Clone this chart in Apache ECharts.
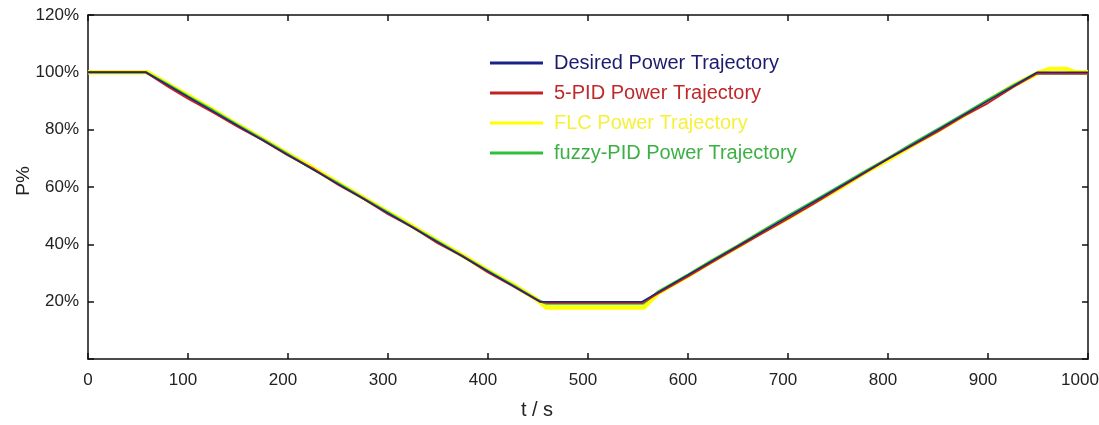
<!DOCTYPE html>
<html>
<head>
<meta charset="utf-8">
<script src="https://cdn.jsdelivr.net/npm/echarts@6/dist/echarts.min.js"></script>
<style>
  html, body { margin: 0; padding: 0; background: #fff; }
  #chart { width: 1099px; height: 425px; }
</style>
</head>
<body>
<div id="chart"></div>
<script>
// t / s and P%
const desired = [[0, 100], [58, 100], [452, 20], [554, 20], [949, 100], [1000, 100]];
const pid5 = [[0, 100], [58, 100], [80, 95], [100, 90.8], [125, 86], [150, 81], [175, 76.3],
  [200, 71], [225, 66.4], [250, 60.8], [275, 56], [300, 50.5], [325, 45.9], [350, 40.3], [375, 35.8],
  [400, 30.2], [425, 25.4], [452, 20], [460, 19.6], [554, 19.6], [570, 22.9], [600, 28.8], [625, 34],
  [650, 39], [675, 44], [700, 49], [725, 54], [750, 59.3], [775, 64.6], [800, 69.8], [825, 74.6],
  [850, 79.4], [875, 84.6], [900, 89.3], [925, 94.8], [949, 99.6], [1000, 99.6]];
const flc = [[0, 100], [60, 100], [80, 95.9], [100, 91.9], [125, 86.9], [150, 81.6], [175, 76.7],
  [200, 71.5], [225, 66.6], [250, 61.4], [275, 56.3], [300, 51.2], [325, 46.2], [350, 41], [375, 36],
  [400, 30.8], [425, 25.9], [448, 21], [458, 18], [556, 18], [570, 23], [600, 29], [625, 34.3],
  [650, 39.2], [675, 44.5], [700, 49.2], [725, 54.4], [750, 59.3], [775, 64.7], [800, 69.5], [825, 74.7],
  [850, 79.7], [875, 84.8], [900, 90], [925, 95.3], [950, 99.8], [962, 101.2], [978, 101.2], [988, 100], [1000, 100]];
const fuzzyPid = [[0, 100], [58, 100], [80, 95.7], [100, 91.6], [125, 86.7], [150, 81.5], [175, 76.5],
  [200, 71.4], [225, 66.2], [250, 61.3], [275, 56.1], [300, 51.1], [325, 45.9], [350, 40.9], [375, 35.8],
  [400, 30.7], [425, 25.7], [450, 20.5], [458, 19.4], [555, 19.4], [570, 23.4], [600, 29.4], [625, 34.6],
  [650, 39.6], [675, 44.8], [700, 49.9], [725, 54.9], [750, 60], [775, 65], [800, 70], [825, 75.2],
  [850, 80.2], [875, 85.3], [900, 90.4], [925, 95.4], [948, 99.6], [1000, 99.6]];

const seriesNames = ['Desired Power Trajectory', '5-PID Power Trajectory', 'FLC Power Trajectory', 'fuzzy-PID Power Trajectory'];
const lineColors = ['#1c2388', '#c42222', '#ffff00', '#2fbf3a'];
const textColors = ['#1c1c6e', '#c0282a', '#f6f03c', '#3cb043'];

const FONT = 'Liberation Sans';
const axisLine = () => ({ show: true, onZero: false, lineStyle: { color: '#111', width: 1.5 } });
const axisTick = () => ({ show: true, inside: true, length: 6, lineStyle: { color: '#111', width: 1.5 } });

const chart = echarts.init(document.getElementById('chart'));
chart.setOption({
  animation: false,
  backgroundColor: '#fff',
  textStyle: { fontFamily: FONT },
  grid: { left: 88, right: 11, top: 15, bottom: 66, outerBoundsMode: 'none', containLabel: false },
  legend: {
    orient: 'vertical',
    left: 490, top: 53, padding: 0,
    itemWidth: 53, itemHeight: 3, itemGap: 10,
    icon: 'rect',
    data: seriesNames.map((n, i) => ({
      name: n,
      textStyle: { color: textColors[i], fontSize: 20, fontFamily: FONT, padding: [0, 0, 0, 6] }
    }))
  },
  xAxis: [{
    type: 'value', min: 0, max: 1000, interval: 100,
    name: 't / s', nameLocation: 'middle', nameGap: 41,
    nameTextStyle: { fontSize: 20, color: '#222', fontFamily: FONT, padding: [0, 102, 0, 0] },
    axisLine: axisLine(), axisTick: axisTick(), splitLine: { show: false },
    axisLabel: {
      fontSize: 17, color: '#222', margin: 13,
      formatter: v => v === 0 ? '0' : (v === 1000 ? '{e|1000}' : '{m|' + v + '}'),
      rich: {
        m: { fontSize: 17, color: '#222', padding: [0, 10, 0, 0] },
        e: { fontSize: 17, color: '#222', padding: [0, 16, 0, 0] }
      }
    }
  }, {
    type: 'value', min: 0, max: 1000, interval: 100, position: 'top',
    axisLine: axisLine(), axisTick: axisTick(), splitLine: { show: false }, axisLabel: { show: false }
  }],
  yAxis: [{
    type: 'value', min: 0, max: 120, interval: 20,
    name: 'P%', nameLocation: 'middle', nameGap: 55, nameRotate: 90, nameMoveOverlap: false,
    nameTextStyle: { fontSize: 19, color: '#222', fontFamily: FONT, padding: [0, 0, 0, 12] },
    axisLine: axisLine(), axisTick: axisTick(), splitLine: { show: false },
    axisLabel: { fontSize: 17, color: '#222', margin: 9, formatter: v => v === 0 ? '' : v + '%' }
  }, {
    type: 'value', min: 0, max: 120, interval: 20, position: 'right',
    axisLine: axisLine(), axisTick: axisTick(), splitLine: { show: false }, axisLabel: { show: false }
  }],
  series: [
    { name: seriesNames[2], type: 'line', data: flc, showSymbol: false, z: 1,
      lineStyle: { color: lineColors[2], width: 4.5 }, itemStyle: { color: lineColors[2] } },
    { name: seriesNames[3], type: 'line', data: fuzzyPid, showSymbol: false, z: 2,
      xAxisIndex: 1, yAxisIndex: 1,
      lineStyle: { color: lineColors[3], width: 2.5 }, itemStyle: { color: lineColors[3] } },
    { name: seriesNames[1], type: 'line', data: pid5, showSymbol: false, z: 3,
      lineStyle: { color: lineColors[1], width: 2 }, itemStyle: { color: lineColors[1] } },
    { name: seriesNames[0], type: 'line', data: desired, showSymbol: false, z: 4,
      lineStyle: { color: lineColors[0], width: 1.5 }, itemStyle: { color: lineColors[0] } }
  ]
});
</script>
</body>
</html>
